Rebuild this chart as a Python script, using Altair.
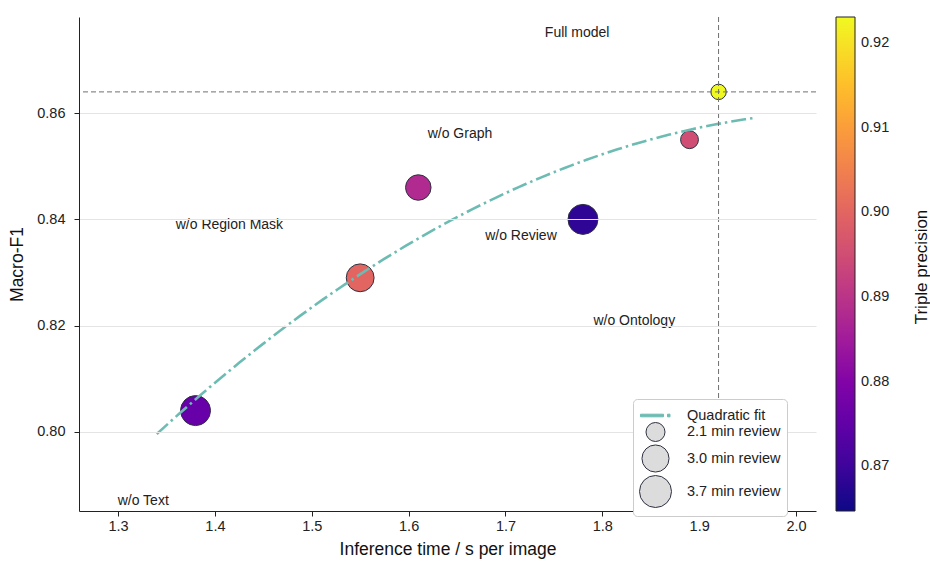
import altair as alt
import numpy as np
import pandas as pd

# Ablation variants and their measurements
variants = ["Full model", "w/o Ontology", "w/o Review", "w/o Graph", "w/o Region Mask", "w/o Text"]
inference_time = [1.92, 1.89, 1.78, 1.61, 1.55, 1.38]      # s per image
macro_f1 = [0.864, 0.855, 0.840, 0.846, 0.829, 0.804]
triple_precision = [0.923, 0.895, 0.868, 0.888, 0.900, 0.876]
review_minutes = [1.8, 2.0, 3.4, 2.8, 3.1, 3.4]

# where each variant's name is written (data units)
label_x = [1.774, 1.833, 1.716, 1.653, 1.415, 1.326]
label_y = [0.8750, 0.8209, 0.8369, 0.8561, 0.8389, 0.7870]

x_ticks = [1.3, 1.4, 1.5, 1.6, 1.7, 1.8, 1.9, 2.0]
y_ticks = [0.80, 0.82, 0.84, 0.86]
cbar_ticks = [0.87, 0.88, 0.89, 0.90, 0.91, 0.92]
legend_review = [2.1, 3.0, 3.7]

x_domain = [1.2597, 2.0206]
y_domain = [0.7851, 0.8781]
cbar_domain = [0.8647, 0.9231]
fit_start, fit_end = 1.34, 1.955

FONT = "Liberation Sans"
TEAL = "#6dbcb3"
EDGE = "#2e3140"
LIGHT = "#dcdcdc"

pts = pd.DataFrame({
    "variant": variants,
    "time": inference_time,
    "f1": macro_f1,
    "precision": triple_precision,
    "review": review_minutes,
    "lx": label_x,
    "ly": label_y,
})

# quadratic least-squares fit of Macro-F1 against inference time
coef = np.polyfit(inference_time, macro_f1, 2)
grid = np.linspace(fit_start, fit_end, 80)
fit = pd.DataFrame({"time": grid, "f1": np.polyval(coef, grid)})


def marker_area(minutes):
    # marker area grows linearly with review time
    return 361 + (minutes - 2.1) * (1024 - 361) / (3.7 - 2.1)


xs = alt.Scale(domain=x_domain, nice=False, zero=False)
ys = alt.Scale(domain=y_domain, nice=False, zero=False)

x_axis = alt.Axis(values=x_ticks, format=".1f", grid=False, tickSize=5, labelPadding=3,
                  titlePadding=8, title="Inference time / s per image")
y_axis = alt.Axis(values=y_ticks, format=".2f", grid=True, gridColor="#e4e4e4", gridWidth=1,
                  tickSize=5, labelPadding=9, titlePadding=10, zindex=1, title="Macro-F1")

base = alt.Chart(pts)

points = base.mark_circle(opacity=1, stroke=EDGE, strokeWidth=1).encode(
    x=alt.X("time:Q", scale=xs, axis=x_axis),
    y=alt.Y("f1:Q", scale=ys, axis=y_axis),
    color=alt.Color(
        "precision:Q",
        scale=alt.Scale(scheme="plasma", domain=cbar_domain, nice=False, zero=False),
        legend=alt.Legend(
            orient="none", legendX=757, legendY=0, direction="vertical", title=None,
            gradientLength=494, gradientThickness=19, values=cbar_ticks, format=".2f",
            labelFontSize=14.5, labelOffset=6, labelFont=FONT, labelColor="#222",
            gradientStrokeColor="#222", gradientStrokeWidth=1, padding=0,
        ),
    ),
    size=alt.Size("review:Q", scale=alt.Scale(domain=[2.1, 3.7], range=[361, 1024], zero=False),
                  legend=None),
)

fit_line = alt.Chart(fit).mark_line(color=TEAL, strokeWidth=2.6, strokeDash=[15, 4, 2.5, 4]).encode(
    x=alt.X("time:Q", scale=xs),
    y=alt.Y("f1:Q", scale=ys),
)

ref_style = dict(color="#707070", strokeWidth=1, strokeDash=[5, 3])
full = pts.iloc[[0]]
h_ref = alt.Chart(full).mark_rule(**ref_style).encode(y=alt.Y("f1:Q", scale=ys))
v_ref = alt.Chart(full).mark_rule(**ref_style).encode(x=alt.X("time:Q", scale=xs))

labels = base.mark_text(font=FONT, fontSize=14, color="#222", align="center", baseline="middle").encode(
    x=alt.X("lx:Q", scale=xs),
    y=alt.Y("ly:Q", scale=ys),
    text="variant:N",
)

# legend entries: the fit line and three marker sizes
entries = ["Quadratic fit"] + [f"{v:.1f} min review" for v in legend_review]
dash_dot = "M-1.5,-0.13H0.8V0.13H-1.5Z M1.2,-0.13H1.45V0.13H1.2Z"
leg = alt.Legend(
    orient="none", legendX=554, legendY=382, title=None, padding=6, zindex=2,
    strokeColor="#cccccc", fillColor="white", cornerRadius=4,
    labelFontSize=14.5, labelFont=FONT, labelColor="#222", labelOffset=15,
    rowPadding=-5, symbolStrokeWidth=1, symbolOpacity=1, labelLimit=300,
)
legend_layer = alt.Chart(pd.DataFrame({"entry": entries})).transform_filter("false").mark_point(
    filled=True, strokeWidth=1
).encode(
    x=alt.value(0),
    y=alt.value(0),
    shape=alt.Shape("entry:N", scale=alt.Scale(domain=entries, range=[dash_dot, "circle", "circle", "circle"]), legend=leg),
    size=alt.Size("entry:N", scale=alt.Scale(type="ordinal", domain=entries,
                                             range=[400] + [marker_area(v) for v in legend_review]), legend=leg),
    fill=alt.Fill("entry:N", scale=alt.Scale(domain=entries, range=[TEAL, LIGHT, LIGHT, LIGHT]), legend=leg),
    stroke=alt.Stroke("entry:N", scale=alt.Scale(domain=entries, range=[TEAL, EDGE, EDGE, EDGE]), legend=leg),
)

cbar_title = alt.Chart(pd.DataFrame({"t": ["Triple precision"]})).mark_text(
    font=FONT, fontSize=17, color="#111", angle=270, align="center", baseline="middle"
).encode(text="t:N", x=alt.value(843), y=alt.value(250))

chart = alt.layer(points, fit_line, h_ref, v_ref, labels, legend_layer, cbar_title).resolve_scale(
    size="independent", shape="independent", fill="independent", stroke="independent"
).resolve_legend(
    size="independent", shape="independent", fill="independent", stroke="independent"
).properties(
    width=737, height=494,
    autosize=alt.AutoSizeParams(type="none"),
    padding={"left": 79, "top": 17, "right": 114, "bottom": 50},
).configure_view(stroke=None).configure_axis(
    labelFont=FONT, titleFont=FONT, labelFontSize=14.5, titleFontSize=17.5,
    titleFontWeight="normal", labelColor="#222", titleColor="#111",
    domainColor="#222", tickColor="#222", domainWidth=1, tickWidth=1,
)

chart.save("out.html", embed_options={"renderer": "svg", "actions": False})
